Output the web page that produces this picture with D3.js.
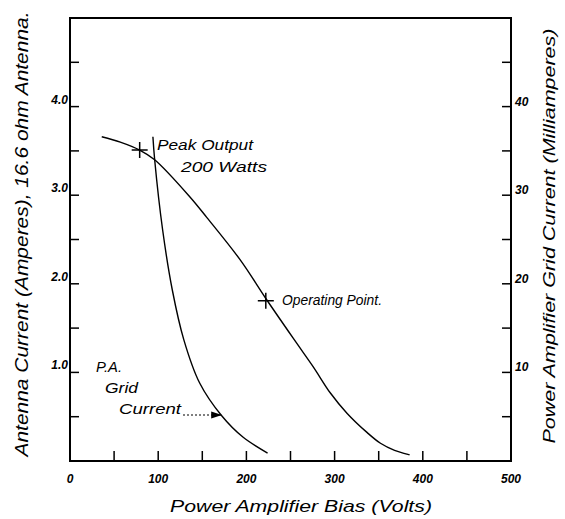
<!DOCTYPE html>
<html>
<head>
<meta charset="utf-8">
<script src="https://cdn.jsdelivr.net/npm/d3@7"></script>
<style>
  body { margin: 0; background: #fff; }
  text { font-family: "Liberation Sans", "DejaVu Sans", sans-serif; font-style: italic; fill: #000; }
</style>
</head>
<body>
<svg id="chart" width="565" height="519"></svg>
<script>
// Antenna current (amperes) vs P.A. bias (volts)
const antennaBias = [36, 57, 79, 96, 136, 155, 193, 223, 257, 276, 295, 314, 337, 352, 368, 385];
const antennaAmps = [3.66, 3.60, 3.51, 3.40, 2.98, 2.75, 2.27, 1.82, 1.33, 1.06, 0.77, 0.54, 0.32, 0.20, 0.12, 0.07];

// P.A. grid current (milliamperes) vs bias (volts)
const gridBias = [94, 96, 105, 116, 129, 147, 172, 196, 224];
const gridMA = [36.6, 34.0, 26.1, 19.3, 13.7, 8.8, 5.1, 2.7, 0.9];

// marked points
const markers = [
  {bias: 79, amps: 3.51},
  {bias: 222, amps: 1.81}
];

const xTicks = [50, 100, 150, 200, 250, 300, 350, 400, 450];
const xLabels = [0, 100, 200, 300, 400, 500];
const leftTicks = [0.5, 1.0, 1.5, 2.0, 2.5, 3.0, 3.5, 4.0, 4.5];
const leftLabels = [1.0, 2.0, 3.0, 4.0];
const rightTicks = [5, 10, 15, 20, 25, 30, 35, 40, 45];
const rightLabels = [10, 20, 30, 40];

const svg = d3.select("#chart");
const x = d3.scaleLinear().domain([0, 500]).range([70, 511]);
const yL = d3.scaleLinear().domain([0, 5]).range([461, 18]);
const yR = d3.scaleLinear().domain([0, 50]).range([461, 18]);

// frame
svg.append("path")
  .attr("d", `M${x(0)},${yL(0)} V${yL(5)} H${x(500)} V${yL(0)} Z`)
  .attr("fill", "none").attr("stroke", "#000").attr("stroke-width", 2);

// ticks
svg.selectAll(".xt").data(xTicks).enter().append("line")
  .attr("x1", d => x(d)).attr("x2", d => x(d))
  .attr("y1", yL(0)).attr("y2", yL(0) - 10)
  .attr("stroke", "#000").attr("stroke-width", 1.5);
svg.selectAll(".lt").data(leftTicks).enter().append("line")
  .attr("x1", x(0)).attr("x2", x(0) + 9)
  .attr("y1", d => yL(d)).attr("y2", d => yL(d))
  .attr("stroke", "#000").attr("stroke-width", 1.5);
svg.selectAll(".rt").data(rightTicks).enter().append("line")
  .attr("x1", x(500)).attr("x2", x(500) - 9)
  .attr("y1", d => yR(d)).attr("y2", d => yR(d))
  .attr("stroke", "#000").attr("stroke-width", 1.5);

// tick labels
svg.selectAll(".xl").data(xLabels).enter().append("text")
  .attr("x", d => x(d)).attr("y", 483)
  .attr("text-anchor", "middle").attr("font-size", 12).attr("font-weight", "bold")
  .text(d => d);
svg.selectAll(".ll").data(leftLabels).enter().append("text")
  .attr("x", 68).attr("y", d => yL(d) - 3)
  .attr("text-anchor", "end").attr("font-size", 12).attr("font-weight", "bold")
  .text(d => d.toFixed(1));
svg.selectAll(".rl").data(rightLabels).enter().append("text")
  .attr("x", 515).attr("y", d => yR(d) - 1)
  .attr("font-size", 12).attr("font-weight", "bold")
  .text(d => d);

// axis titles
svg.append("text")
  .attr("transform", "translate(28,234) rotate(-90)")
  .attr("text-anchor", "middle").attr("font-size", 18)
  .attr("textLength", 445).attr("lengthAdjust", "spacingAndGlyphs")
  .text("Antenna Current (Amperes), 16.6 ohm Antenna.");
svg.append("text")
  .attr("transform", "translate(555,236) rotate(-90)")
  .attr("text-anchor", "middle").attr("font-size", 17)
  .attr("textLength", 415).attr("lengthAdjust", "spacingAndGlyphs")
  .text("Power Amplifier Grid Current (Milliamperes)");
svg.append("text")
  .attr("x", 301).attr("y", 512)
  .attr("text-anchor", "middle").attr("font-size", 17)
  .attr("textLength", 262).attr("lengthAdjust", "spacingAndGlyphs")
  .text("Power  Amplifier  Bias (Volts)");

// curves
const antennaLine = d3.line()
  .x((d, i) => x(antennaBias[i])).y(d => yL(d))
  .curve(d3.curveCatmullRom.alpha(0.5));
svg.append("path").attr("d", antennaLine(antennaAmps))
  .attr("fill", "none").attr("stroke", "#000").attr("stroke-width", 1.4);

const gridLine = d3.line()
  .x((d, i) => x(gridBias[i])).y(d => yR(d))
  .curve(d3.curveCatmullRom.alpha(0.5));
svg.append("path").attr("d", gridLine(gridMA))
  .attr("fill", "none").attr("stroke", "#000").attr("stroke-width", 1.4);

// crosses
markers.forEach(m => {
  const cx = x(m.bias), cy = yL(m.amps);
  svg.append("path")
    .attr("d", `M${cx - 8},${cy} H${cx + 8} M${cx},${cy - 8} V${cy + 8}`)
    .attr("stroke", "#000").attr("stroke-width", 1.5);
});

// annotations
const note = (tx, ty, s, len) => svg.append("text")
  .attr("x", tx).attr("y", ty).attr("font-size", 14)
  .attr("textLength", len).attr("lengthAdjust", "spacingAndGlyphs").text(s);
note(157, 150, "Peak Output", 96);
note(181, 172, "200 Watts", 86);
note(282, 305, "Operating Point.", 100);
note(96, 372, "P.A.", 26);
note(105, 393, "Grid", 33);
note(119, 414, "Current", 62);

// arrow to grid current curve
svg.append("defs").append("marker")
  .attr("id", "arrow").attr("markerWidth", 10).attr("markerHeight", 8)
  .attr("refX", 9).attr("refY", 3).attr("orient", "auto")
  .append("path").attr("d", "M0,0 L9,3 L0,6 z").attr("fill", "#000");
svg.append("line")
  .attr("x1", 183).attr("y1", 415).attr("x2", 222).attr("y2", 415)
  .attr("stroke", "#000").attr("stroke-width", 1.2)
  .attr("stroke-dasharray", "2,2").attr("marker-end", "url(#arrow)");
</script>
</body>
</html>
